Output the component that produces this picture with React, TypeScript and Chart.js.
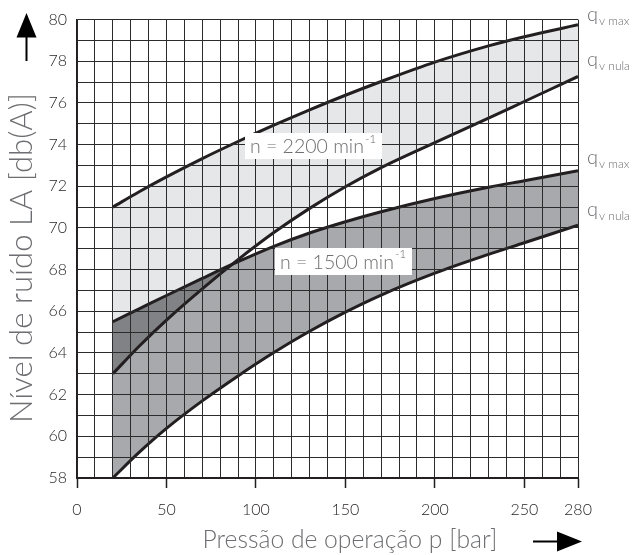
import { useEffect, useRef } from 'react';
import { Chart, registerables } from 'chart.js';
Chart.register(...registerables);

// Pressão de operação p [bar]
const pressures = [20, 35, 50, 70, 90, 110, 130, 150, 170, 200, 230, 250, 280];
// n = 2200 min^-1
const level2200Max = [71.0, 71.75, 72.45, 73.33, 74.15, 74.93, 75.67, 76.37, 77.03, 77.96, 78.74, 79.18, 79.75];
const level2200Nula = [63.0, 64.35, 65.58, 67.08, 68.48, 69.78, 70.94, 71.98, 72.9, 74.1, 75.27, 76.07, 77.27];
// n = 1500 min^-1
const level1500Max = [65.5, 66.13, 66.76, 67.58, 68.38, 69.12, 69.76, 70.3, 70.78, 71.41, 71.95, 72.27, 72.75];
const level1500Nula = [58.0, 59.25, 60.38, 61.7, 62.9, 64.02, 65.04, 65.96, 66.78, 67.83, 68.73, 69.29, 70.13];

const xLabelValues = [0, 50, 100, 150, 200, 250, 280];
const yLabelValues = [58, 60, 62, 64, 66, 68, 70, 72, 74, 76, 78, 80];

const LINE = '#231f20';
const TEXT_GRAY = '#6d6e71';
const LIGHT = '#e6e7e8';
const MEDIUM = '#a7a9ac';
const DARK = '#808285';
const FONT = 'Lato, "Open Sans", sans-serif';

const toPoints = (ys: number[]) => pressures.map((x, i) => ({ x, y: ys[i] }));

const fitFont = (ctx: CanvasRenderingContext2D, text: string, width: number) => {
  ctx.font = `300 20px ${FONT}`;
  const w = ctx.measureText(text).width;
  return (20 * width) / w;
};

const decorPlugin = {
  id: 'decor',
  afterDraw(chart: any) {
    const ctx = chart.ctx as CanvasRenderingContext2D;
    ctx.save();
    // speed labels with white boxes
    const drawSpeed = (bx: number, by: number, bw: number, bh: number, txt: string) => {
      ctx.fillStyle = '#ffffff';
      ctx.fillRect(bx, by, bw, bh);
      ctx.fillStyle = TEXT_GRAY;
      const size = fitFont(ctx, txt, 114);
      ctx.font = `300 ${size}px ${FONT}`;
      ctx.textAlign = 'left';
      ctx.textBaseline = 'alphabetic';
      ctx.fillText(txt, bx + 5, by + bh - 6);
      const w = ctx.measureText(txt).width;
      ctx.font = `300 12px ${FONT}`;
      ctx.fillText('-1', bx + 6 + w, by + 10);
    };
    drawSpeed(245, 133, 137, 26, 'n = 2200 min');
    drawSpeed(275, 248, 137, 27, 'n = 1500 min');

    // q_v labels
    const qLabel = (y: number, sub: string) => {
      ctx.fillStyle = TEXT_GRAY;
      ctx.textAlign = 'left';
      ctx.textBaseline = 'alphabetic';
      ctx.font = `300 20px ${FONT}`;
      ctx.fillText('q', 587, y);
      ctx.font = `300 12px ${FONT}`;
      ctx.fillText(sub, 599, y + 4);
    };
    qLabel(21, 'v max');
    qLabel(66, 'v nula');
    qLabel(164, 'v max');
    qLabel(216, 'v nula');

    // axis titles
    ctx.fillStyle = TEXT_GRAY;
    ctx.textAlign = 'center';
    ctx.textBaseline = 'middle';
    const xTitle = 'Pressão de operação p [bar]';
    ctx.font = `300 ${fitFont(ctx, xTitle, 295)}px ${FONT}`;
    ctx.fillText(xTitle, 350, 540);
    const yTitle = 'Nível de ruído LA [db(A)]';
    ctx.save();
    ctx.font = `300 ${fitFont(ctx, yTitle, 330)}px ${FONT}`;
    ctx.translate(22, 258);
    ctx.rotate(-Math.PI / 2);
    ctx.fillText(yTitle, 0, 0);
    ctx.restore();

    // arrows
    ctx.fillStyle = '#000000';
    ctx.beginPath();
    ctx.moveTo(26.5, 13);
    ctx.lineTo(36.5, 37.5);
    ctx.lineTo(16.5, 37.5);
    ctx.closePath();
    ctx.fill();
    ctx.fillRect(25.5, 37, 2, 24);

    ctx.beginPath();
    ctx.moveTo(582, 541.5);
    ctx.lineTo(557, 531.5);
    ctx.lineTo(557, 551.5);
    ctx.closePath();
    ctx.fill();
    ctx.fillRect(533, 540.5, 25, 2);
    ctx.restore();
  },
};

export default function App() {
  const ref = useRef<HTMLCanvasElement | null>(null);
  useEffect(() => {
    if (!ref.current) return;
    const lineBase = {
      borderColor: LINE,
      borderWidth: 3,
      pointRadius: 0,
      cubicInterpolationMode: 'monotone' as const,
    };
    const chart = new Chart(ref.current, {
      type: 'line',
      data: {
        datasets: [
          {
            ...lineBase,
            label: '2200 qv nula',
            data: toPoints(level2200Nula),
            fill: { target: 2, above: 'rgba(0,0,0,0)', below: DARK },
          },
          {
            ...lineBase,
            label: '2200 qv max',
            data: toPoints(level2200Max),
            fill: { target: 0, above: LIGHT, below: 'rgba(0,0,0,0)' },
          },
          {
            ...lineBase,
            label: '1500 qv max',
            data: toPoints(level1500Max),
            fill: { target: 3, above: MEDIUM, below: 'rgba(0,0,0,0)' },
          },
          {
            ...lineBase,
            label: '1500 qv nula',
            data: toPoints(level1500Nula),
            fill: false,
          },
        ] as any,
      },
      options: {
        responsive: false,
        animation: false,
        layout: { padding: { left: 0, right: 57, top: 15, bottom: 0 } },
        plugins: {
          legend: { display: false },
          tooltip: { enabled: false },
          filler: { drawTime: 'beforeDatasetsDraw' },
        } as any,
        scales: {
          x: {
            type: 'linear',
            min: 0,
            max: 280,
            afterFit: (s: any) => { s.height = 77; },
            afterBuildTicks: (s: any) => {
              const t = [];
              for (let v = 0; v <= 280; v += 10) t.push({ value: v });
              s.ticks = t;
            },
            grid: {
              z: 1,
              color: '#2b2b2b',
              lineWidth: 1,
              drawTicks: true,
              tickLength: 10,
              tickWidth: 1.5,
              tickColor: (c: any) => (xLabelValues.includes(c.tick?.value) ? LINE : 'rgba(0,0,0,0)'),
            },
            border: { color: LINE, width: 2, z: 2 },
            ticks: {
              autoSkip: false,
              maxRotation: 0,
              padding: 12,
              color: LINE,
              font: { family: FONT, size: 16, weight: 300 as any },
              callback: (v: any) => (xLabelValues.includes(Number(v)) ? String(v) : ''),
            },
          } as any,
          y: {
            type: 'linear',
            min: 58,
            max: 80,
            afterFit: (s: any) => { s.width = 77; },
            afterBuildTicks: (s: any) => {
              const t = [];
              for (let v = 58; v <= 80; v += 1) t.push({ value: v });
              s.ticks = t;
            },
            grid: { z: 1, color: '#2b2b2b', lineWidth: 1, drawTicks: false },
            border: { color: LINE, width: 1.5, z: 2 },
            ticks: {
              autoSkip: false,
              padding: 10,
              color: LINE,
              font: { family: FONT, size: 16, weight: 300 as any },
              callback: (v: any) => (yLabelValues.includes(Number(v)) ? String(v) : ''),
            },
          } as any,
        },
      },
      plugins: [decorPlugin],
    });
    return () => chart.destroy();
  }, []);
  return (
    <div style={{ position: 'fixed', left: 0, top: 0, width: 635, height: 555, background: '#fff' }}>
      <canvas ref={ref} width={635} height={555} style={{ width: 635, height: 555, display: 'block' }} />
    </div>
  );
}
